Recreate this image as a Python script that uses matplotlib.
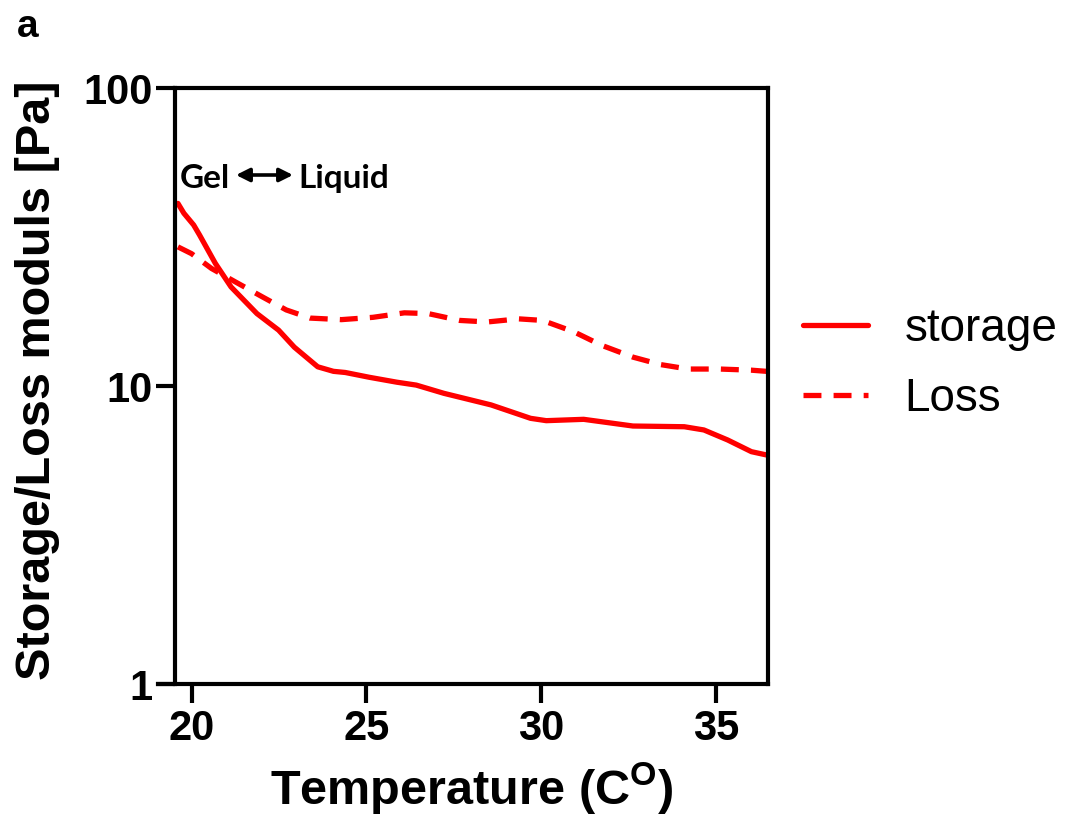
import matplotlib
matplotlib.use("Agg")
import matplotlib.pyplot as plt
import numpy as np

# ---- data ----
storage_T = [19.61, 19.78, 20.06, 20.23, 20.68, 21.13, 21.87, 22.49, 22.94, 23.61,
             24.06, 24.40, 25.08, 25.87, 26.43, 27.22, 28.57, 29.70, 30.15, 31.22,
             32.63, 34.10, 34.66, 35.34, 36.02, 36.45]
storage_G = [41.0, 38.0, 34.7, 32.1, 25.8, 21.5, 17.5, 15.4, 13.5, 11.6,
             11.2, 11.1, 10.7, 10.3, 10.07, 9.45, 8.64, 7.79, 7.65, 7.73,
             7.34, 7.30, 7.12, 6.59, 6.02, 5.87]

loss_T = [19.61, 20.0, 20.57, 21.24, 22.03, 22.71, 23.39, 24.29, 25.19, 26.09,
          26.77, 27.67, 28.46, 29.36, 30.04, 30.94, 31.73, 32.63, 33.42, 34.21,
          35.11, 36.02, 36.45]
loss_G = [29.3, 27.8, 24.8, 22.4, 19.9, 18.0, 16.9, 16.7, 17.0, 17.6,
          17.5, 16.6, 16.4, 16.8, 16.6, 15.2, 13.7, 12.5, 11.8, 11.4,
          11.4, 11.3, 11.2]

x_ticks = [20, 25, 30, 35]
y_ticks = [1, 10, 100]
y_ticklabels = ["1", "10", "100"]
series_labels = ["storage", "Loss"]

RED = "#ff0000"
W, H = 1068, 821
fig = plt.figure(figsize=(W / 100, H / 100), dpi=100)

# axes frame: bottom axis line from px 158 to 767.5, y from 88 to 684
ax = fig.add_axes([158 / W, 1 - 684 / H, (767.5 - 158) / W, (684 - 88) / H])
ax.set_yscale("log")
ax.set_xlim(19.04, 36.48)
ax.set_ylim(1, 100)

ax.plot(storage_T, storage_G, color=RED, lw=3.8, solid_capstyle="round",
        solid_joinstyle="round", label=series_labels[0])
ax.plot(loss_T, loss_G, color=RED, lw=3.8, dashes=(3.4, 2.3),
        dash_capstyle="butt", label=series_labels[1])

lw_axis = 3.0
for s in ax.spines.values():
    s.set_linewidth(lw_axis)
ax.spines["left"].set_position(("data", 19.53))
ax.spines["top"].set_bounds(19.53, 36.48)

ax.set_xticks(x_ticks)
ax.set_xticklabels([str(t) for t in x_ticks])
ax.set_yticks(y_ticks)
ax.set_yticklabels(y_ticklabels)
ax.yaxis.set_minor_locator(matplotlib.ticker.NullLocator())
ax.tick_params(axis="both", which="major", length=14, width=lw_axis,
               labelsize=30, pad=4)
ax.tick_params(axis="y", pad=2)
for lab in ax.get_xticklabels() + ax.get_yticklabels():
    lab.set_fontfamily("Liberation Sans")
    lab.set_fontweight("bold")

ax.set_xlabel("Temperature (C$^{\\mathregular{O}}$)", fontsize=35,
              fontweight="bold", family="Liberation Sans")
ax.xaxis.set_label_coords((472 - 158) / 609.5, -(760 - 684) / 596)
ax.set_ylabel("Storage/Loss moduls [Pa]", fontsize=35, fontweight="bold",
              family="Liberation Sans")
ax.yaxis.set_label_coords((60 - 158) / 609.5, 0.51)

# legend
leg = fig.legend(loc="center left", bbox_to_anchor=(803 / W, 1 - 364 / H),
                 frameon=False, borderpad=0, borderaxespad=0,
                 handlelength=1.42, handletextpad=0.8, labelspacing=0.55,
                 prop={"family": "Liberation Sans", "size": 33})

# Gel <-> Liquid annotation
fig.text(180 / W, 1 - 178 / H, "Gel", fontsize=24, fontweight="bold",
         family="Lato", va="center", ha="left")
fig.text(389 / W, 1 - 178 / H, "Liquid", fontsize=24, fontweight="bold",
         family="Lato", va="center", ha="right")
ax.annotate("", xy=(293 / W, 1 - 175 / H), xytext=(236 / W, 1 - 175 / H),
            xycoords="figure fraction", textcoords="figure fraction",
            arrowprops=dict(arrowstyle="<|-|>", color="black", lw=2.6,
                            mutation_scale=20, shrinkA=0, shrinkB=0))

fig.text(17 / W, 1 - 9 / H, "a", fontsize=28, fontweight="bold",
         family="Liberation Sans", va="top", ha="left")

fig.savefig("out.png", dpi=100, facecolor="white")
